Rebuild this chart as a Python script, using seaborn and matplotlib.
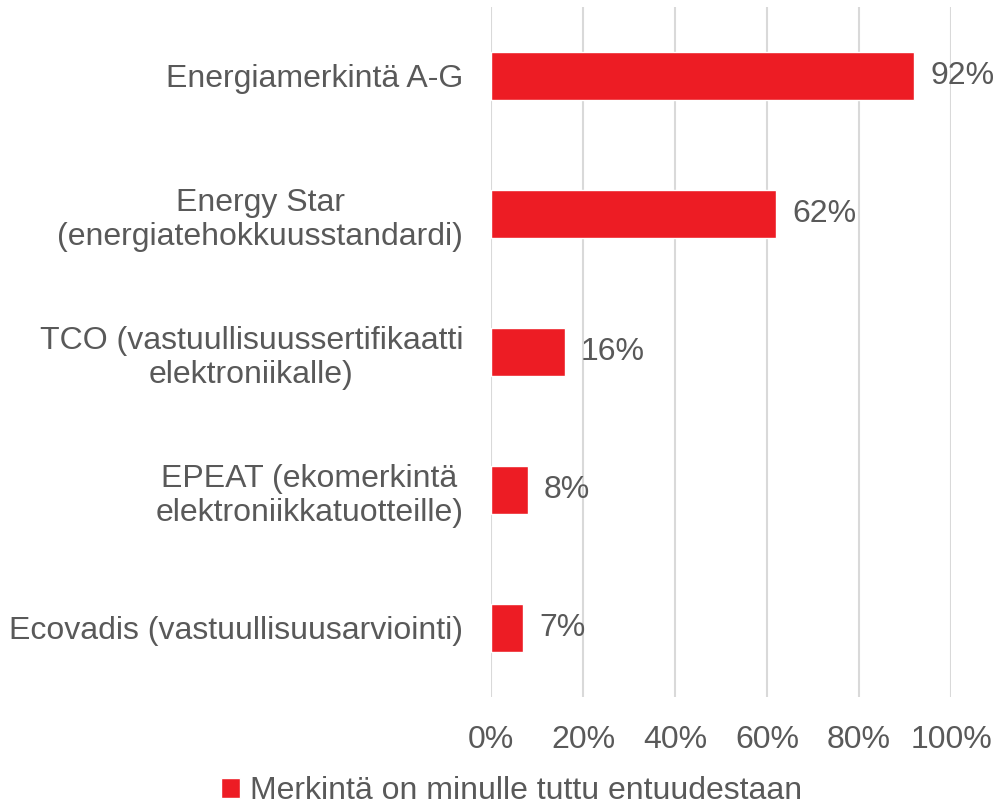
import numpy as np
import pandas as pd
import seaborn as sns
from matplotlib import pyplot as plt

labels = ['Energiamerkintä A-G',
          'Energy Star\n(energiatehokkuusstandardi)',
          'TCO (vastuullisuussertifikaatti\nelektroniikalle)',
          'EPEAT (ekomerkintä\nelektroniikkatuotteille)',
          'Ecovadis (vastuullisuusarviointi)']
values = [92, 62, 16, 8, 7]
ticks = [0, 20, 40, 60, 80, 100]
series = 'Merkintä on minulle tuttu entuudestaan'

sns.set_style('white')
plt.rcParams['font.family'] = ['Liberation Sans', 'DejaVu Sans']
grey = '#595959'
red = '#ED1C24'
fs = 23

df = pd.DataFrame({'label': labels, 'value': values})

fig = plt.figure(figsize=(10, 8.09), dpi=100)
ax = fig.add_axes([0.491, 1 - 697 / 809, 0.46, 690 / 809])
sns.barplot(data=df, y='label', x='value', color=red, width=0.35,
            saturation=1, ax=ax, label=series)
ax.set_xlim(0, 100)
ax.set_ylim(4.5, -0.5)
ax.set_xticks(ticks)
ax.set_xticklabels([f'{t}%' for t in ticks], fontsize=fs, color=grey)
ax.tick_params(axis='x', length=0, pad=20)
ax.tick_params(axis='y', length=0, pad=20)
for t in ax.get_yticklabels():
    t.set_fontsize(fs)
    t.set_color(grey)
    t.set_horizontalalignment('right')
    t.set_multialignment('center')
ax.set_xlabel('')
ax.set_ylabel('')
ax.grid(axis='x', color='#D9D9D9', linewidth=1.5)
ax.set_axisbelow(True)
for s in ax.spines.values():
    s.set_visible(False)
for i, v in enumerate(values):
    ax.text(v + 3.5, i, f'{v}%', va='center', ha='left', fontsize=fs, color=grey)

ax.legend(loc='lower center', bbox_to_anchor=(0.045, -0.2),
          frameon=False, fontsize=fs, labelcolor=grey, handlelength=0.6,
          handleheight=0.6, handletextpad=0.3)

fig.savefig('out.png', dpi=100)
